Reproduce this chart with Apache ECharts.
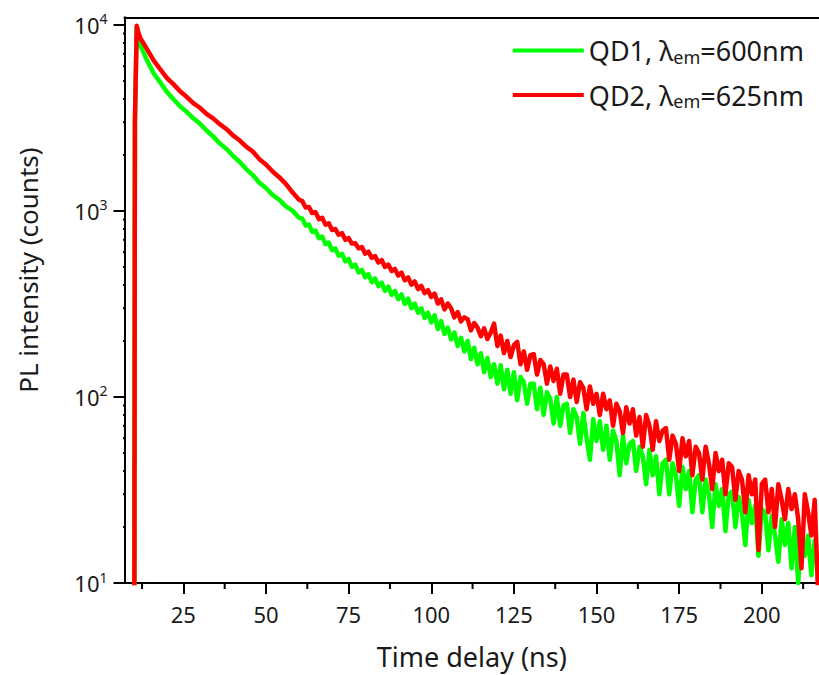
<!DOCTYPE html>
<html>
<head>
<meta charset="utf-8">
<script src="https://cdn.jsdelivr.net/npm/echarts@6/dist/echarts.min.js"></script>
<style>
html,body{margin:0;padding:0;background:#fff;}
#chart{width:819px;height:675px;}
</style>
</head>
<body>
<div id="chart"></div>
<script>
// ---- data ----
const timeNs = [10.15, 10.35, 10.9, 11.4, 12, 13, 14, 15, 16, 18, 20, 22, 24, 26, 28, 30, 32, 34, 36, 38, 40, 42, 44, 46, 48, 50, 52, 54, 56, 58, 60,
  61, 62, 63, 64, 65, 66, 67, 68, 69, 70,
  71, 72, 73, 74, 75, 76, 77, 78, 79, 80,
  81, 82, 83, 84, 85, 86, 87, 88, 89, 90,
  91, 92, 93, 94, 95, 96, 97, 98, 99, 100,
  101, 102, 103, 104, 105, 106, 107, 108, 109, 110,
  111, 112, 113, 114, 115, 116, 117, 118, 119, 120,
  121, 122, 123, 124, 125, 126, 127, 128, 129, 130,
  131, 132, 133, 134, 135, 136, 137, 138, 139, 140,
  141, 142, 143, 144, 145, 146, 147, 148, 149, 150,
  151, 152, 153, 154, 155, 156, 157, 158, 159, 160,
  161, 162, 163, 164, 165, 166, 167, 168, 169, 170,
  171, 172, 173, 174, 175, 176, 177, 178, 179, 180,
  181, 182, 183, 184, 185, 186, 187, 188, 189, 190,
  191, 192, 193, 194, 195, 196, 197, 198, 199, 200,
  201, 202, 203, 204, 205, 206, 207, 208, 209, 210,
  211, 212, 213, 214, 215, 216, 217];

// QD1 (green)
const qd1Counts = [2, 3000, 9750, 8320, 7760, 7080, 6460, 5960, 5500, 4920, 4370, 3990, 3660, 3410, 3150, 2950, 2710, 2520, 2310, 2160, 1980, 1840, 1680, 1560, 1420, 1330, 1220, 1150, 1060, 1005, 920,
  910, 835, 845, 772, 785, 715, 728, 664, 676, 615,
  628, 575, 588, 536, 552, 500, 515, 468, 482, 440,
  458, 414, 434, 394, 412, 372, 392, 354, 372, 336,
  356, 316, 338, 300, 318, 284, 300, 266, 284, 252,
  275, 232, 256, 218, 236, 204, 222, 188, 208, 176,
  200, 160, 184, 150, 172, 136, 162, 128, 150, 118,
  148, 110, 140, 104, 136, 96, 128, 120, 92, 118,
  118, 86, 112, 80, 106, 98, 72, 100, 70, 90,
  92, 64, 86, 78, 56, 82, 60, 46, 76, 58,
  74, 52, 70, 46, 66, 58, 38, 62, 44, 56,
  58, 40, 54, 48, 34, 52, 38, 48, 30, 44,
  46, 30, 44, 38, 26, 42, 32, 40, 24, 36,
  38, 24, 36, 30, 20, 34, 26, 32, 19, 30,
  31, 20, 29, 24, 16, 28, 21, 26, 14, 25,
  24, 15, 23, 18, 13, 22, 16, 21, 12, 20,
  10, 19, 14, 18, 11, 17, 12];

// QD2 (red)
const qd2Counts = [2, 3000, 9900, 9120, 8510, 7940, 7410, 6920, 6460, 5780, 5190, 4810, 4400, 4110, 3800, 3590, 3330, 3150, 2930, 2760, 2550, 2400, 2220, 2090, 1900, 1780, 1630, 1520, 1400, 1260, 1150,
  1130, 1045, 1050, 975, 985, 905, 920, 845, 858, 790,
  800, 745, 760, 700, 715, 668, 670, 630, 640, 590,
  605, 560, 572, 528, 545, 500, 515, 476, 488, 450,
  466, 424, 440, 402, 418, 380, 396, 362, 375, 345,
  360, 318, 335, 296, 318, 300, 268, 286, 255, 268,
  262, 228, 250, 236, 212, 234, 205, 222, 248, 188,
  214, 172, 200, 164, 190, 198, 150, 176, 140, 168,
  170, 132, 158, 150, 118, 146, 122, 142, 104, 132,
  132, 100, 124, 94, 120, 112, 86, 114, 92, 104,
  80, 104, 86, 96, 70, 92, 84, 64, 88, 72,
  86, 62, 78, 54, 80, 70, 52, 74, 58, 66,
  68, 46, 62, 56, 40, 60, 48, 58, 38, 54,
  50, 36, 54, 44, 32, 50, 40, 46, 30, 44,
  42, 28, 40, 36, 24, 38, 30, 36, 15, 34,
  36, 24, 32, 20, 34, 28, 22, 32, 25, 30,
  22, 12, 30, 24, 18, 28, 9];

const seriesNames = ['QD1, λ{sub|em}=600nm', 'QD2, λ{sub|em}=625nm'];
const seriesColors = ['#00ff00', '#ff0000'];

const xMajorTicks = [25, 50, 75, 100, 125, 150, 175, 200];
const xMinorTicks = [12.5, 37.5, 62.5, 87.5, 112.5, 137.5, 162.5, 187.5, 212.5];
const yMajorTicks = [10, 100, 1000, 10000];
const yMinorTicks = [20, 30, 40, 50, 60, 70, 80, 90, 200, 300, 400, 500, 600, 700, 800, 900, 2000, 3000, 4000, 5000, 6000, 7000, 8000, 9000];

const xRange = [7.2, 217.3];
const yRange = [10, 11000];

const xTitle = 'Time delay (ns)';
const yTitle = 'PL intensity (counts)';

// ---- build ----
const FONT = 'Noto Sans';
const TXT = '#1a1a1a';

const lineSeries = [qd1Counts, qd2Counts].map((vals, k) => ({
  name: seriesNames[k],
  type: 'line',
  data: timeNs.map((t, i) => [t, vals[i]]),
  symbol: 'none',
  showSymbol: false,
  lineStyle: { color: seriesColors[k], width: 4.5, cap: 'round', join: 'round' },
  itemStyle: { color: seriesColors[k] }
}));

const chart = echarts.init(document.getElementById('chart'), null, { renderer: 'svg' });
chart.setOption({
  animation: false,
  grid: { left: 124.5, right: 0, top: 17.3, bottom: 91.7 },
  legend: {
    orient: 'vertical', right: 10, top: 32,
    itemWidth: 71, itemHeight: 4, itemGap: 16, icon: 'rect',
    data: seriesNames,
    formatter: n => '{a|' + n.replace('{sub|em}', '}{sub|em}{a|') + '}',
    textStyle: {
      fontFamily: FONT, fontSize: 27, color: TXT,
      rich: {
        a: { fontFamily: FONT, fontSize: 27, color: TXT, lineHeight: 30 },
        sub: { fontFamily: FONT, fontSize: 18, color: TXT, lineHeight: 30, verticalAlign: 'bottom' }
      }
    }
  },
  xAxis: [
    {
      type: 'value', position: 'bottom', min: xRange[0], max: xRange[1],
      axisLine: { show: true, lineStyle: { color: '#000', width: 2 } },
      axisTick: { show: true, customValues: xMajorTicks, length: 11, lineStyle: { color: '#000', width: 2 } },
      axisLabel: { show: true, customValues: xMajorTicks, margin: 20, fontFamily: FONT, fontSize: 22, color: TXT },
      splitLine: { show: false },
      name: xTitle, nameLocation: 'middle', nameGap: 60,
      nameTextStyle: { fontFamily: FONT, fontSize: 27, color: TXT }
    },
    {
      type: 'value', position: 'top', min: xRange[0], max: xRange[1],
      axisLine: { show: true, lineStyle: { color: '#000', width: 2 } },
      axisTick: { show: false }, axisLabel: { show: false }, splitLine: { show: false }
    }
  ],
  yAxis: [
    {
      type: 'log', position: 'left', min: yRange[0], max: yRange[1],
      axisLine: { show: true, lineStyle: { color: '#000', width: 2 } },
      axisTick: { show: true, customValues: yMajorTicks, length: 11, lineStyle: { color: '#000', width: 2 } },
      axisLabel: {
        show: true, customValues: yMajorTicks, margin: 17,
        formatter: v => '{b|10}{s|' + Math.round(Math.log10(v)) + '}',
        rich: {
          b: { fontFamily: FONT, fontSize: 22, color: TXT, lineHeight: 26 },
          s: { fontFamily: FONT, fontSize: 14, color: TXT, lineHeight: 16, verticalAlign: 'top' }
        }
      },
      splitLine: { show: false },
      name: yTitle, nameLocation: 'middle', nameGap: 84,
      nameTextStyle: { fontFamily: FONT, fontSize: 26, color: TXT, padding: [0, 0, 0, 60] }
    }
  ],
  series: lineSeries
});

// minor tick marks: segments whose ends come from the chart's own scales
function tickData(values, isX, len) {
  const out = [];
  values.forEach(v => {
    const a = isX ? [v, yRange[0]] : [xRange[0], v];
    const p = chart.convertToPixel({ gridIndex: 0 }, a);
    const q = isX ? [p[0], p[1] + len] : [p[0] - len, p[1]];
    const b = chart.convertFromPixel({ gridIndex: 0 }, q);
    out.push(a, isX ? [v, b[1]] : [b[0], v], isX ? [v, null] : [null, v]);
  });
  return out;
}
function tickLine(values, isX, len) {
  return {
    type: 'line', silent: true, clip: false, z: 6, symbol: 'none', showSymbol: false,
    connectNulls: false, legendHoverLink: false,
    data: tickData(values, isX, len),
    lineStyle: { color: '#000', width: 2 },
    itemStyle: { color: '#000' }
  };
}
chart.setOption({
  series: lineSeries.concat([
    tickLine(xMinorTicks, true, 6),
    tickLine(yMinorTicks, false, 6)
  ])
});
</script>
</body>
</html>
